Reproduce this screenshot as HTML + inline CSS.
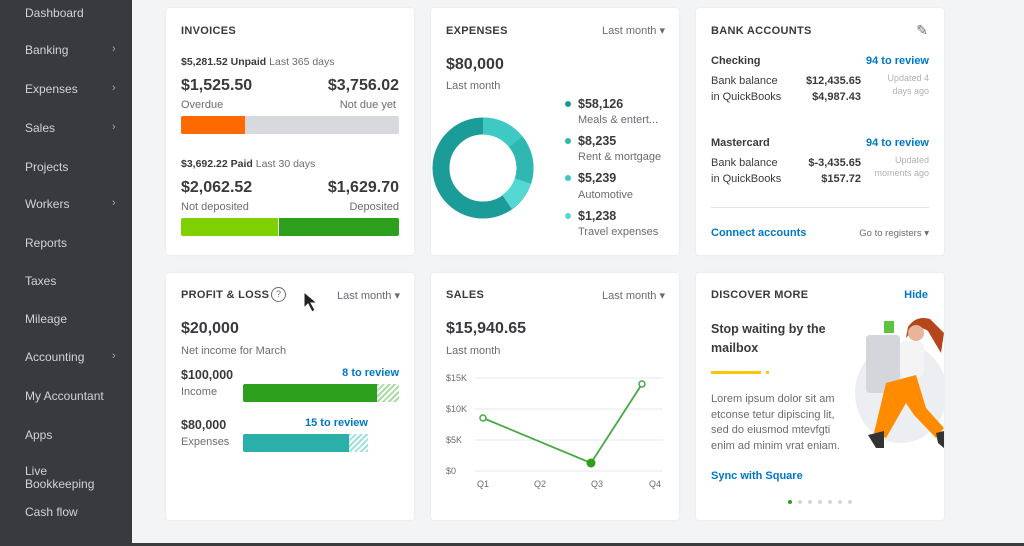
<!DOCTYPE html>
<html><head><meta charset="utf-8"><style>
*{margin:0;padding:0;box-sizing:border-box}
body{width:1024px;height:546px;overflow:hidden;background:#f3f4f6;font-family:"Liberation Sans",sans-serif;position:relative;color:#393a3d}
.sb{position:absolute;left:0;top:0;width:132px;height:546px;background:#393a3d}
.sb div{position:absolute;left:25px;font-size:12px;color:#d2d3d4}
.sb span{position:absolute;left:112px;font-size:11px;color:#aaa}
.card{position:absolute;background:#fff;border-radius:3px;box-shadow:0 0 2px rgba(0,0,0,.08)}
.a{position:absolute;white-space:nowrap}
.t{font-size:11px;font-weight:bold;letter-spacing:.3px;color:#393a3d}
.s{font-size:11px;color:#6b6c72}
.b{font-size:16px;font-weight:bold}
.lk{font-size:11px;font-weight:bold;color:#0077c5}
.dd{font-size:11px;color:#6b6c72}
.bot{position:absolute;left:132px;right:0;top:543px;height:3px;background:#3a3b3d}
</style></head><body>
<div class="sb">
<div style="top:6px">Dashboard</div>
<div style="top:43px">Banking</div><span style="top:43px">›</span>
<div style="top:82px">Expenses</div><span style="top:82px">›</span>
<div style="top:121px">Sales</div><span style="top:121px">›</span>
<div style="top:160px">Projects</div>
<div style="top:197px">Workers</div><span style="top:197px">›</span>
<div style="top:236px">Reports</div>
<div style="top:274px">Taxes</div>
<div style="top:312px">Mileage</div>
<div style="top:350px">Accounting</div><span style="top:350px">›</span>
<div style="top:389px">My Accountant</div>
<div style="top:428px">Apps</div>
<div style="top:465px;line-height:13px">Live<br>Bookkeeping</div>
<div style="top:505px">Cash flow</div>
</div>
<div class="bot"></div>

<!-- Invoices -->
<div class="card" style="left:166px;top:8px;width:248px;height:247px">
<div class="a t" style="left:15px;top:17px">INVOICES</div>
<div class="a" style="left:15px;top:48px;font-size:10.5px"><b>$5,281.52 Unpaid</b> <span style="color:#6b6c72">Last 365 days</span></div>
<div class="a b" style="left:15px;top:69px">$1,525.50</div>
<div class="a b" style="right:15px;top:69px">$3,756.02</div>
<div class="a s" style="left:15px;top:91px">Overdue</div>
<div class="a s" style="right:18px;top:91px">Not due yet</div>
<div class="a" style="left:15px;top:108px;width:218px;height:18px;background:#d8d9dc;border-radius:2px"></div>
<div class="a" style="left:15px;top:108px;width:64px;height:18px;background:#ff6a00;border-radius:2px 0 0 2px"></div>
<div class="a" style="left:15px;top:150px;font-size:10.5px"><b>$3,692.22 Paid</b> <span style="color:#6b6c72">Last 30 days</span></div>
<div class="a b" style="left:15px;top:171px">$2,062.52</div>
<div class="a b" style="right:15px;top:171px">$1,629.70</div>
<div class="a s" style="left:15px;top:193px">Not deposited</div>
<div class="a s" style="right:15px;top:193px">Deposited</div>
<div class="a" style="left:15px;top:210px;width:97px;height:18px;background:#7fd000;border-radius:2px 0 0 2px"></div>
<div class="a" style="left:113px;top:210px;width:120px;height:18px;background:#2ca01c;border-radius:0 2px 2px 0"></div>
</div>

<!-- Expenses -->
<div class="card" style="left:431px;top:8px;width:248px;height:247px">
<div class="a t" style="left:15px;top:17px">EXPENSES</div>
<div class="a dd" style="right:14px;top:16px">Last month ▾</div>
<div class="a b" style="left:15px;top:48px">$80,000</div>
<div class="a s" style="left:15px;top:72px">Last month</div>
<svg class="a" style="left:0;top:0" width="248" height="247">
<g transform="translate(52,160)" fill="none" stroke-width="17">
<circle r="42" stroke="#1c9c98" />
<path d="M0,-42 A42,42 0 0 1 33,-26" stroke="#3ec9c4"/>
<path d="M33,-26 A42,42 0 0 1 40,13" stroke="#2fb8b2"/>
<path d="M40,13 A42,42 0 0 1 24,34" stroke="#55d8d3"/>
</g>
<circle cx="137" cy="96" r="3" fill="#1c9c98"/><circle cx="137" cy="133" r="3" fill="#2fb8b2"/>
<circle cx="137" cy="170" r="3" fill="#3ec9c4"/><circle cx="137" cy="208" r="3" fill="#55d8d3"/>
</svg>
<div class="a" style="left:147px;top:89px;font-size:12.5px;font-weight:bold">$58,126</div>
<div class="a s" style="left:147px;top:106px">Meals &amp; entert...</div>
<div class="a" style="left:147px;top:126px;font-size:12.5px;font-weight:bold">$8,235</div>
<div class="a s" style="left:147px;top:143px">Rent &amp; mortgage</div>
<div class="a" style="left:147px;top:163px;font-size:12.5px;font-weight:bold">$5,239</div>
<div class="a s" style="left:147px;top:181px">Automotive</div>
<div class="a" style="left:147px;top:201px;font-size:12.5px;font-weight:bold">$1,238</div>
<div class="a s" style="left:147px;top:218px">Travel expenses</div>
</div>

<!-- Bank -->
<div class="card" style="left:696px;top:8px;width:248px;height:247px">
<div class="a t" style="left:15px;top:17px">BANK ACCOUNTS</div>
<div class="a" style="right:16px;top:14px;font-size:14px;color:#6b6c72">✎</div>
<div class="a" style="left:15px;top:47px;font-size:11px;font-weight:bold">Checking</div>
<div class="a lk" style="right:15px;top:47px">94 to review</div>
<div class="a s" style="left:15px;top:65px;line-height:16px;color:#393a3d">Bank balance<br>in QuickBooks</div>
<div class="a" style="left:105px;top:65px;font-size:11px;font-weight:bold;line-height:16px;text-align:right;width:60px">$12,435.65<br>$4,987.43</div>
<div class="a" style="right:15px;top:64px;font-size:9px;color:#b0b1b5;line-height:13px;text-align:right">Updated 4<br>days ago</div>
<div class="a" style="left:15px;top:129px;font-size:11px;font-weight:bold">Mastercard</div>
<div class="a lk" style="right:15px;top:129px">94 to review</div>
<div class="a s" style="left:15px;top:147px;line-height:16px;color:#393a3d">Bank balance<br>in QuickBooks</div>
<div class="a" style="left:105px;top:147px;font-size:11px;font-weight:bold;line-height:16px;text-align:right;width:60px">$-3,435.65<br>$157.72</div>
<div class="a" style="right:15px;top:146px;font-size:9px;color:#b0b1b5;line-height:13px;text-align:right">Updated<br>moments ago</div>
<div class="a" style="left:15px;top:199px;width:218px;height:1px;background:#e3e4e6"></div>
<div class="a lk" style="left:15px;top:219px">Connect accounts</div>
<div class="a" style="right:15px;top:220px;font-size:9.5px;color:#6b6c72">Go to registers ▾</div>
</div>

<!-- P&L -->
<div class="card" style="left:166px;top:273px;width:248px;height:247px">
<div class="a t" style="left:15px;top:16px">PROFIT &amp; LOSS</div>
<div class="a" style="left:105px;top:14px;width:15px;height:15px;border:1.5px solid #6b6c72;border-radius:50%;font-size:9px;text-align:center;line-height:12px;color:#6b6c72">?</div>
<svg class="a" style="left:136px;top:18px" width="20" height="24"><path d="M2,1 L2,17 L6,13 L10,21 L13,19 L9,12 L15,12 Z" fill="#222" stroke="#fff" stroke-width="1"/></svg>
<div class="a dd" style="right:14px;top:16px">Last month ▾</div>
<div class="a b" style="left:15px;top:47px">$20,000</div>
<div class="a s" style="left:15px;top:72px">Net income for March</div>
<div class="a" style="left:15px;top:95px;font-size:12.5px;font-weight:bold">$100,000</div>
<div class="a s" style="left:15px;top:113px">Income</div>
<div class="a lk" style="right:15px;top:94px">8 to review</div>
<div class="a" style="left:77px;top:111px;width:134px;height:18px;background:#2ca01c;border-radius:2px 0 0 2px"></div>
<div class="a" style="left:211px;top:111px;width:22px;height:18px;background:repeating-linear-gradient(135deg,#a9dba2 0 2px,#fff 2px 4px)"></div>
<div class="a" style="left:15px;top:145px;font-size:12.5px;font-weight:bold">$80,000</div>
<div class="a s" style="left:15px;top:163px">Expenses</div>
<div class="a lk" style="left:139px;top:144px">15 to review</div>
<div class="a" style="left:77px;top:161px;width:106px;height:18px;background:#2ab0a8;border-radius:2px 0 0 2px"></div>
<div class="a" style="left:183px;top:161px;width:19px;height:18px;background:repeating-linear-gradient(135deg,#9fe0dc 0 2px,#fff 2px 4px)"></div>
</div>

<!-- Sales -->
<div class="card" style="left:431px;top:273px;width:248px;height:247px">
<div class="a t" style="left:15px;top:16px">SALES</div>
<div class="a dd" style="right:14px;top:16px">Last month ▾</div>
<div class="a b" style="left:15px;top:47px">$15,940.65</div>
<div class="a s" style="left:15px;top:72px">Last month</div>
<svg class="a" style="left:0;top:0" width="248" height="247" font-family="Liberation Sans" font-size="9" fill="#6b6c72">
<g stroke="#e6e7e9"><line x1="44" x2="232" y1="105" y2="105"/><line x1="44" x2="232" y1="136" y2="136"/><line x1="44" x2="232" y1="167" y2="167"/><line x1="44" x2="232" y1="198" y2="198"/></g>
<text x="15" y="108">$15K</text><text x="15" y="139">$10K</text><text x="15" y="170">$5K</text><text x="15" y="201">$0</text>
<text x="46" y="214">Q1</text><text x="103" y="214">Q2</text><text x="160" y="214">Q3</text><text x="218" y="214">Q4</text>
<polyline points="52,145 160,190 211,111" fill="none" stroke="#47a942" stroke-width="1.8"/>
<circle cx="52" cy="145" r="3" fill="#fff" stroke="#47a942" stroke-width="1.5"/>
<circle cx="211" cy="111" r="3" fill="#fff" stroke="#47a942" stroke-width="1.5"/>
<circle cx="160" cy="190" r="4.5" fill="#2ca01c"/>
</svg>
</div>

<!-- Discover -->
<div class="card" style="left:696px;top:273px;width:248px;height:247px">
<div class="a t" style="left:15px;top:16px">DISCOVER MORE</div>
<div class="a lk" style="right:16px;top:16px">Hide</div>
<div class="a" style="left:15px;top:47px;font-size:12.5px;font-weight:bold;line-height:19px">Stop waiting by the<br>mailbox</div>
<div class="a" style="left:15px;top:98px;width:50px;height:3px;background:#ffc20e"></div>
<div class="a" style="left:70px;top:98px;width:3px;height:3px;background:#ffc20e"></div>
<div class="a s" style="left:15px;top:119px;line-height:15.5px">Lorem ipsum dolor sit am<br>etconse tetur dipiscing lit,<br>sed do eiusmod mtevfgti<br>enim ad minim vrat eniam.</div>
<div class="a lk" style="left:15px;top:197px">Sync with Square</div>
<svg class="a" style="left:150px;top:40px" width="98" height="150">
<ellipse cx="55" cy="80" rx="46" ry="50" fill="#eceef1"/>
<rect x="20" y="22" width="34" height="58" rx="4" fill="#d4d6db"/>
<rect x="38" y="8" width="10" height="12" fill="#5cc43e"/>
<path d="M60,25 Q72,10 82,18 L95,40 L98,20 L84,6 Q70,2 62,14Z" fill="#b5451b"/>
<circle cx="70" cy="20" r="8" fill="#e8b49a"/>
<rect x="54" y="28" width="24" height="36" rx="6" fill="#f4f4f4"/>
<path d="M40,70 L70,62 L80,95 L98,115 L90,125 L68,102 L60,90 L40,125 L28,120 Z" fill="#ff8c00"/>
<path d="M22,122 L38,118 L38,135 L30,135Z" fill="#333"/>
<path d="M90,120 L98,118 L98,135 L92,130Z" fill="#333"/>
</svg>
<div class="a" style="left:92px;top:227px;width:4px;height:4px;border-radius:50%;background:#2ca01c"></div>
<div class="a" style="left:102px;top:227px;width:4px;height:4px;border-radius:50%;background:#d5d6d8"></div>
<div class="a" style="left:112px;top:227px;width:4px;height:4px;border-radius:50%;background:#d5d6d8"></div>
<div class="a" style="left:122px;top:227px;width:4px;height:4px;border-radius:50%;background:#d5d6d8"></div>
<div class="a" style="left:132px;top:227px;width:4px;height:4px;border-radius:50%;background:#d5d6d8"></div>
<div class="a" style="left:142px;top:227px;width:4px;height:4px;border-radius:50%;background:#d5d6d8"></div>
<div class="a" style="left:152px;top:227px;width:4px;height:4px;border-radius:50%;background:#d5d6d8"></div>
</div>
</body></html>
